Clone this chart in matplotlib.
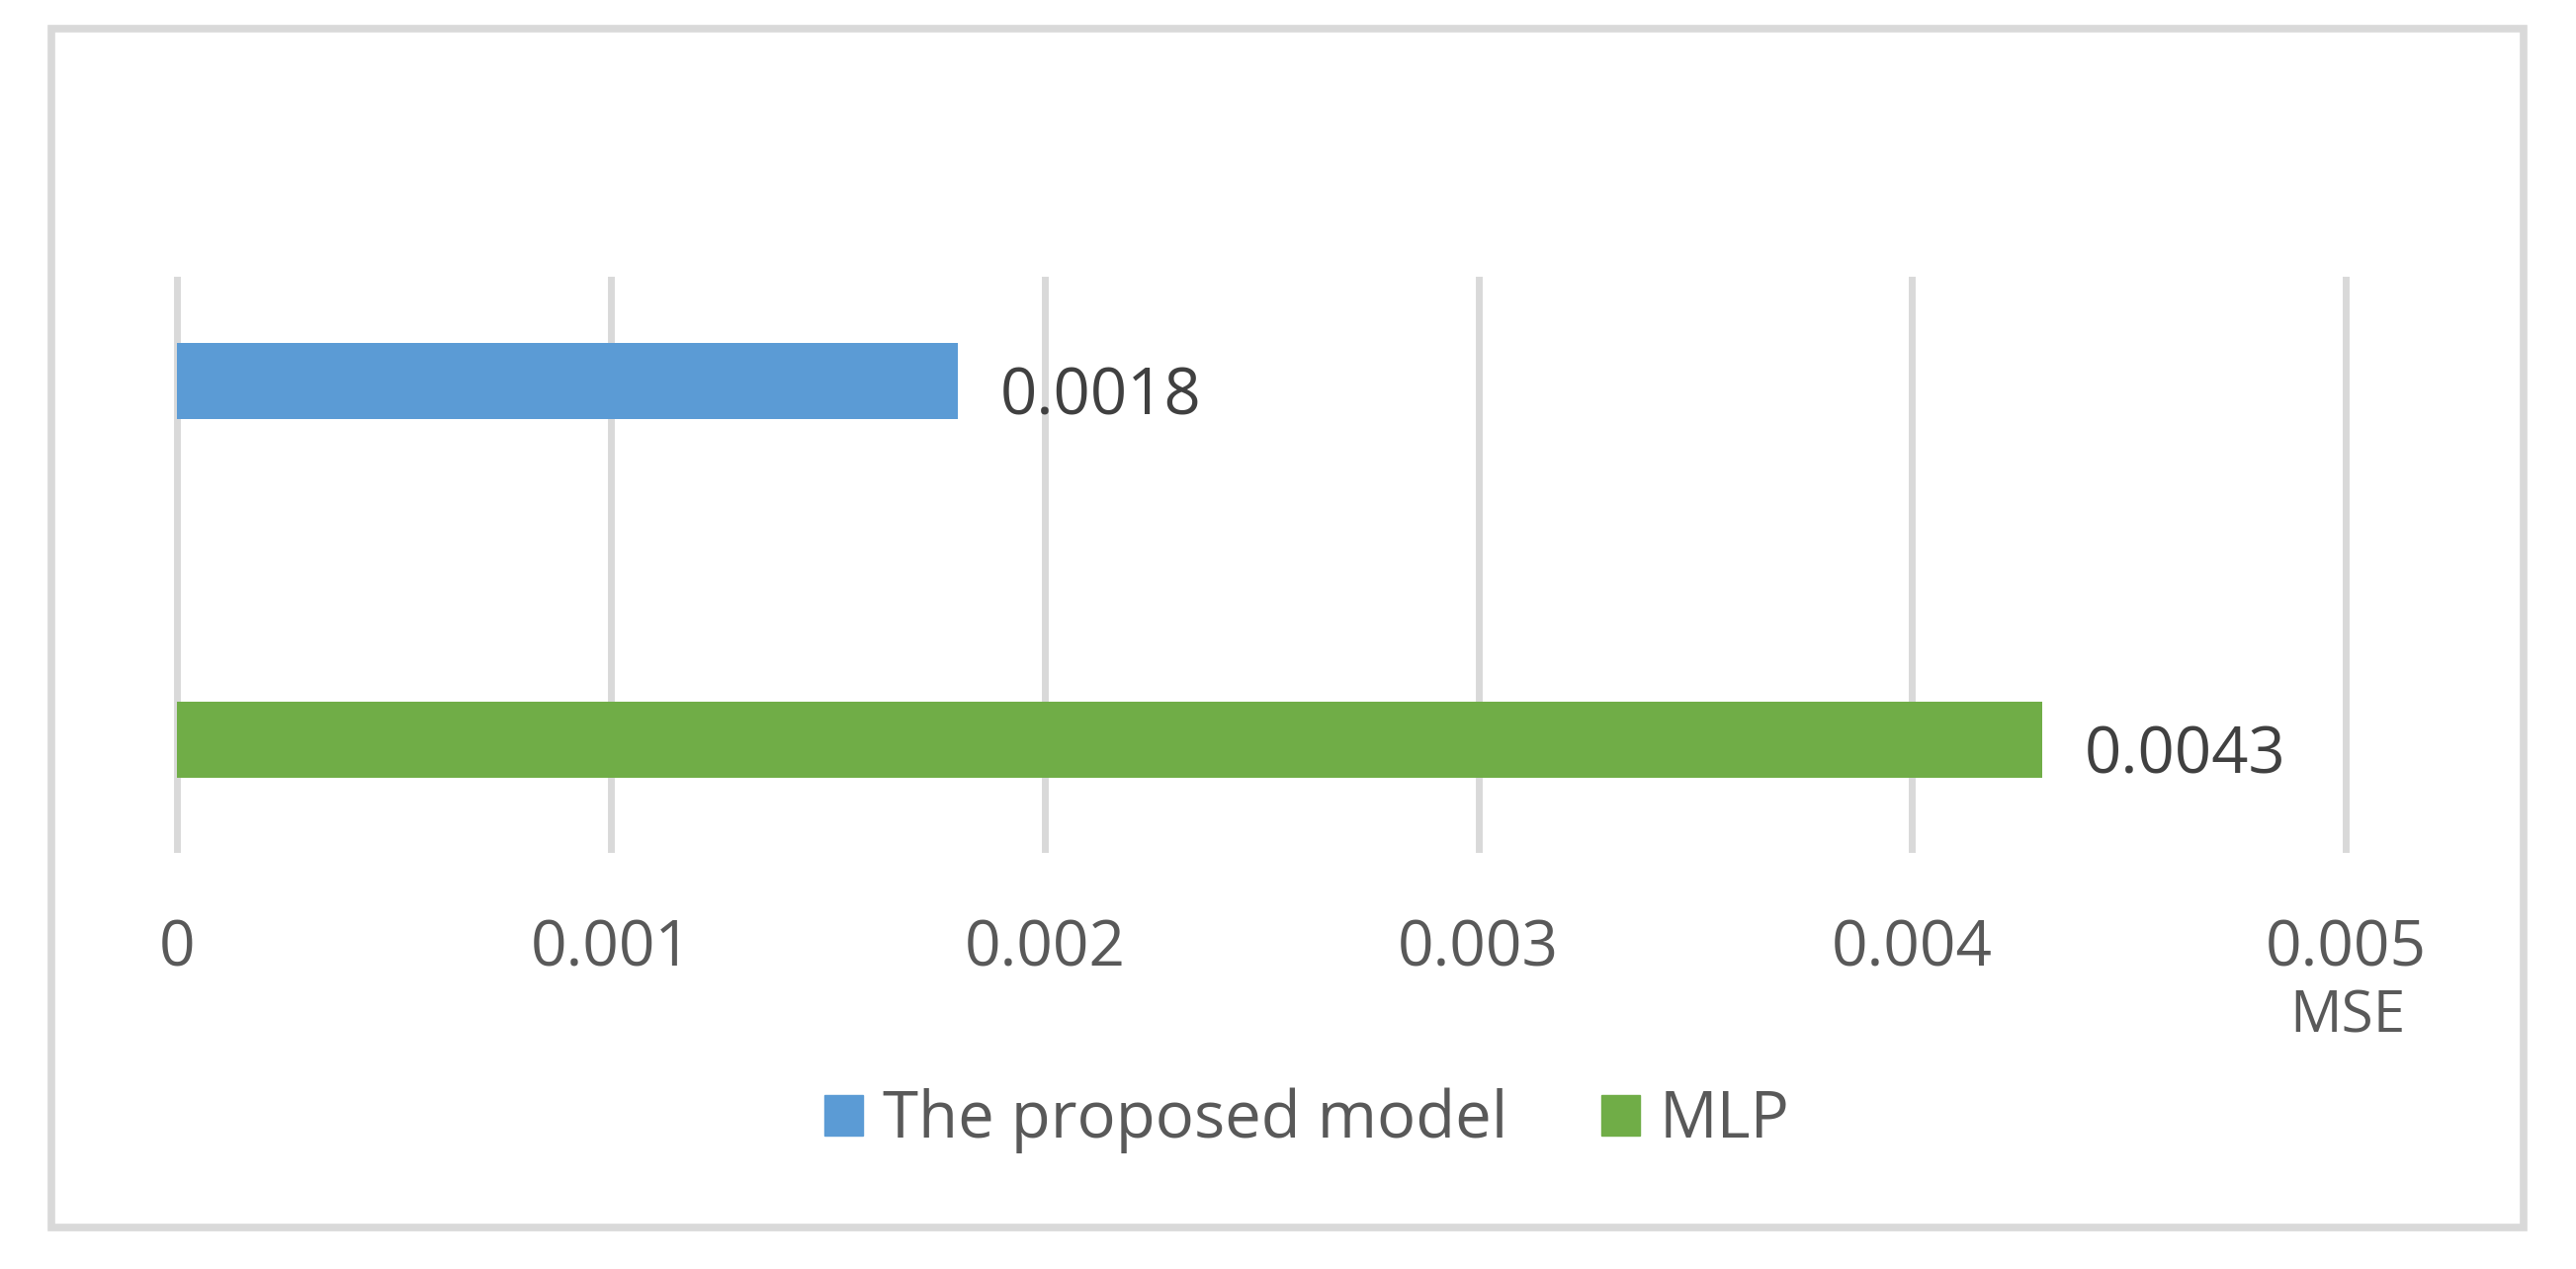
import matplotlib.pyplot as plt
from matplotlib.patches import Rectangle

plt.rcParams['font.family'] = ['Open Sans', 'DejaVu Sans']

models = ['The proposed model', 'MLP']
mse = [0.0018, 0.0043]
colors = ['#5B9BD5', '#70AD47']
positions = [1, 0]
xticks = [0, 0.001, 0.002, 0.003, 0.004, 0.005]
xtick_labels = ['0', '0.001', '0.002', '0.003', '0.004', '0.005']

W, H = 2606, 1284
fig = plt.figure(figsize=(W / 100, H / 100), dpi=100)
ax = fig.add_axes([179.5 / W, 1 - 859 / H, (2373 - 179.5) / W, (859 - 283) / H])

bars = ax.barh(positions, mse, height=0.212, color=colors)
labels = ax.bar_label(bars, labels=[str(v) for v in mse], padding=31, fontsize=47, color='#404040')
for t in labels:
    t.xyann = (31, -12)

ax.set_xlim(0, 0.005)
ax.set_ylim(-0.304, 1.282)
ax.set_xticks(xticks)
ax.set_xticklabels(xtick_labels, fontsize=46, color='#595959')
ax.set_yticks([])
ax.tick_params(axis='x', length=0, pad=50)
for s in ax.spines.values():
    s.set_visible(False)
ax.grid(axis='x', color='#d9d9d9', linewidth=5)
ax.set_axisbelow(True)
for gl in ax.get_xgridlines():
    gl.set_clip_on(False)

fig.text(2375 / W, 1 - 1029 / H, 'MSE', ha='center', va='center', fontsize=42, color='#595959')

handles = [Rectangle((0, 0), 1, 1, color=c) for c in colors]
fig.legend(handles, models, loc='center', bbox_to_anchor=(1322 / W, 1 - 1134 / H),
           ncol=2, frameon=False, fontsize=47, labelcolor='#595959',
           handlelength=0.6, handleheight=0.6, handletextpad=0.3, columnspacing=1.45)

fig.patches.append(Rectangle((52 / W, 1 - 1242 / H), (2553 - 52) / W, (1242 - 29) / H,
                             transform=fig.transFigure, fill=False,
                             edgecolor='#d9d9d9', linewidth=5.5))

fig.savefig('out.png', dpi=100, facecolor='white')
